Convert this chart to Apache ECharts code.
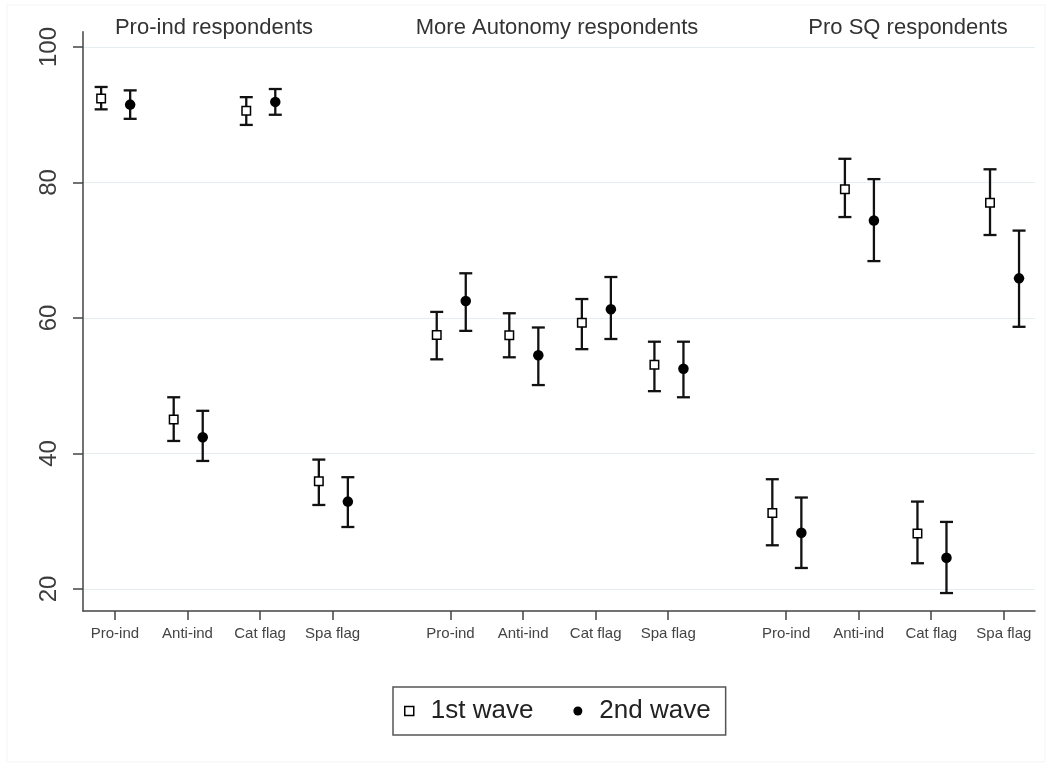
<!DOCTYPE html>
<html>
<head>
<meta charset="utf-8">
<script src="https://cdn.jsdelivr.net/npm/echarts@6/dist/echarts.min.js"></script>
<style>
  html, body { margin: 0; padding: 0; background: #fff; }
  #chart { width: 1051px; height: 769px; }
</style>
</head>
<body>
<div id="chart"></div>
<script>
// categories and groups
const categories = ['Pro-ind', 'Anti-ind', 'Cat flag', 'Spa flag']
const groups = ['Pro-ind respondents', 'More Autonomy respondents', 'Pro SQ respondents']
const yTicks = [20, 40, 60, 80, 100]

// 1st wave (hollow squares): mean and CI
const wave1Mean = [92.4, 45.0, 90.6, 35.9, 57.5, 57.45, 59.3, 53.1, 31.2, 79.0, 28.2, 77.0]
const wave1Low = [90.8, 41.85, 88.5, 32.4, 53.9, 54.2, 55.4, 49.2, 26.45, 74.9, 23.8, 72.25]
const wave1High = [94.1, 48.3, 92.6, 39.1, 60.9, 60.7, 62.8, 56.5, 36.2, 83.5, 32.9, 81.95]

// 2nd wave (filled circles): mean and CI
const wave2Mean = [91.5, 42.4, 91.9, 32.9, 62.5, 54.5, 61.3, 52.5, 28.3, 74.4, 24.6, 65.85]
const wave2Low = [89.4, 38.9, 90.0, 29.15, 58.1, 50.1, 56.9, 48.3, 23.1, 68.4, 19.4, 58.7]
const wave2High = [93.6, 46.3, 93.8, 36.5, 66.6, 58.6, 66.05, 56.5, 33.5, 80.5, 29.9, 72.9]

// layout of the x positions
const groupStep = 4.625
const offset1 = -0.19
const offset2 = 0.21

const tickPos = []
const tickLabel = []
groups.forEach((g, gi) => {
  categories.forEach((c, ci) => {
    tickPos.push(gi * groupStep + ci + 1)
    tickLabel.push(c)
  })
})

const font = "'Liberation Sans', Arial, sans-serif"
const ink = '#111'

const errData = (mean, low, high, off) => mean.map((m, i) => [tickPos[i] + off, low[i], high[i]])
const pointData = (mean, off) => mean.map((m, i) => [tickPos[i] + off, m])

// 误差线
const renderErr = (params, api) => {
  const x = api.value(0)
  const top = api.coord([x, api.value(2)])
  const bot = api.coord([x, api.value(1)])
  const half = 6.5
  const st = { stroke: ink, lineWidth: 2.3 }
  return {
    type: 'group',
    children: [
      { type: 'line', shape: { x1: top[0], y1: top[1], x2: bot[0], y2: bot[1] }, style: st },
      { type: 'line', shape: { x1: top[0] - half, y1: top[1], x2: top[0] + half, y2: top[1] }, style: st },
      { type: 'line', shape: { x1: bot[0] - half, y1: bot[1], x2: bot[0] + half, y2: bot[1] }, style: st }
    ]
  }
}

const chart = echarts.init(document.getElementById('chart'))

chart.setOption({
  backgroundColor: '#fff',
  animation: false,
  textStyle: { fontFamily: font },
  grid: { left: 83, right: 16, top: 31.7, bottom: 158 },
  xAxis: {
    type: 'value',
    min: 0.56,
    max: 13.68,
    axisLine: { lineStyle: { color: '#444', width: 1.5 } },
    axisTick: { customValues: tickPos, length: 9, lineStyle: { color: '#444', width: 1.5 } },
    axisLabel: {
      customValues: tickPos,
      formatter: v => tickLabel[tickPos.findIndex(p => Math.abs(p - v) < 0.01)] || '',
      color: '#444',
      fontSize: 15,
      margin: 15
    },
    splitLine: { show: false }
  },
  yAxis: {
    type: 'value',
    min: 16.75,
    max: 102.26,
    axisLine: { show: true, lineStyle: { color: '#444', width: 1.5 } },
    axisTick: { show: true, customValues: yTicks, length: 10, lineStyle: { color: '#444', width: 1.5 } },
    axisLabel: {
      customValues: yTicks,
      rotate: 90,
      color: '#3c3c3c',
      fontSize: 24,
      margin: 22
    },
    splitLine: { show: true, lineStyle: { color: '#e4eef0', width: 1.2 } }
  },
  legend: {
    left: 393,
    top: 687,
    orient: 'horizontal',
    borderColor: '#555',
    borderWidth: 1.5,
    borderRadius: 0,
    padding: [11, 15, 11, 11],
    itemGap: 40,
    itemWidth: 9,
    itemHeight: 9,
    textStyle: { fontSize: 26, color: '#222', padding: [0, 0, 0, 12] },
    data: [
      { name: '1st wave', icon: 'rect', itemStyle: { color: '#fff', borderColor: '#000', borderWidth: 1.5 } },
      { name: '2nd wave', icon: 'circle', itemStyle: { color: '#000' } }
    ]
  },
  graphic: [
    { type: 'rect', shape: { x: 7, y: 5, width: 1038, height: 757 }, style: { fill: 'none', stroke: '#f1f5f7', lineWidth: 1 }, z: -1 },
    { type: 'text', x: 214, y: 28, style: { text: groups[0], font: '22px ' + font, fill: '#333', align: 'center', verticalAlign: 'middle' } },
    { type: 'text', x: 557, y: 28, style: { text: groups[1], font: '22px ' + font, fill: '#333', align: 'center', verticalAlign: 'middle' } },
    { type: 'text', x: 908, y: 28, style: { text: groups[2], font: '22px ' + font, fill: '#333', align: 'center', verticalAlign: 'middle' } }
  ],
  series: [
    { type: 'custom', name: 'ci1', renderItem: renderErr, data: errData(wave1Mean, wave1Low, wave1High, offset1), z: 2 },
    { type: 'custom', name: 'ci2', renderItem: renderErr, data: errData(wave2Mean, wave2Low, wave2High, offset2), z: 2 },
    {
      type: 'scatter',
      name: '1st wave',
      symbol: 'rect',
      symbolSize: 8.5,
      itemStyle: { color: '#fff', borderColor: '#000', borderWidth: 1.5, opacity: 1 },
      data: pointData(wave1Mean, offset1),
      z: 3
    },
    {
      type: 'scatter',
      name: '2nd wave',
      symbol: 'circle',
      symbolSize: 10.5,
      itemStyle: { color: '#000', opacity: 1 },
      data: pointData(wave2Mean, offset2),
      z: 3
    }
  ]
})
</script>
</body>
</html>
